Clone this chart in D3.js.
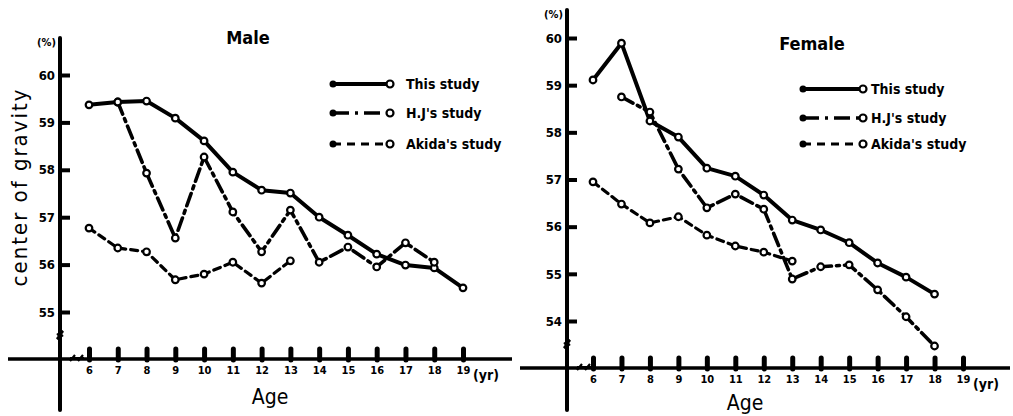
<!DOCTYPE html>
<html>
<head>
<meta charset="utf-8">
<script src="https://cdn.jsdelivr.net/npm/d3@7"></script>
<style>
  body { margin: 0; background: #fff; }
  text { font-family: "DejaVu Sans Condensed", "DejaVu Sans", sans-serif; fill: #000; }
  .tick text { font-weight: bold; }
</style>
</head>
<body>
<svg width="1013" height="416"></svg>
<script>
// ages on the x axis
var ages = [6, 7, 8, 9, 10, 11, 12, 13, 14, 15, 16, 17, 18, 19];

// male panel (center of gravity, %)
var maleThisAges = [6, 7, 8, 9, 10, 11, 12, 13, 14, 15, 16, 17, 18, 19];
var maleThis = [59.37, 59.43, 59.45, 59.09, 58.61, 57.95, 57.57, 57.51, 57.0, 56.62, 56.22, 55.99, 55.93, 55.51];
var maleHJAges = [7, 8, 9, 10, 11, 12, 13, 14, 15, 16, 17, 18];
var maleHJ = [59.43, 57.93, 56.56, 58.27, 57.11, 56.27, 57.15, 56.05, 56.37, 55.95, 56.46, 56.05];
var maleAkidaAges = [6, 7, 8, 9, 10, 11, 12, 13];
var maleAkida = [56.77, 56.35, 56.27, 55.68, 55.80, 56.05, 55.61, 56.08];
var maleYTicks = [55, 56, 57, 58, 59, 60];

// female panel
var femaleThisAges = [6, 7, 8, 9, 10, 11, 12, 13, 14, 15, 16, 17, 18];
var femaleThis = [59.11, 59.89, 58.24, 57.90, 57.24, 57.07, 56.67, 56.14, 55.93, 55.66, 55.23, 54.93, 54.57];
var femaleHJAges = [7, 8, 9, 10, 11, 12, 13, 14, 15, 16, 17, 18];
var femaleHJ = [58.75, 58.43, 57.22, 56.40, 56.69, 56.37, 54.89, 55.15, 55.19, 54.66, 54.09, 53.47];
var femaleAkidaAges = [6, 7, 8, 9, 10, 11, 12, 13];
var femaleAkida = [56.95, 56.48, 56.08, 56.21, 55.82, 55.59, 55.46, 55.27];
var femaleYTicks = [54, 55, 56, 57, 58, 59, 60];

var seriesNames = ['This study', "H.J's study", "Akida's study"];
var femaleNames = ['This study', "H.J's study", "Akida's study"];

var svg = d3.select('svg');

var styles = [
  {dash: null, width: 4},
  {dash: '13,5,3,5', width: 3.6},
  {dash: '7,5', width: 3.2}
];

var zip = function(a, v) {
  return a.map(function(d, i) { return {age: d, value: v[i]}; });
};

var drawPanel = function(p) {
  var g = svg.append('g');

  var x = d3.scaleLinear().domain([6, 19]).range(p.xRange);
  var y = d3.scaleLinear().domain(p.yDomain).range(p.yRange);

  // axis lines (hand-drawn look: thick)
  g.append('line')
    .attr('x1', p.axisX).attr('x2', p.axisX)
    .attr('y1', p.axisTop).attr('y2', 410)
    .attr('stroke', '#000').attr('stroke-width', 4).attr('stroke-linecap', 'round');
  g.append('line')
    .attr('x1', p.xLeft).attr('x2', p.xRight)
    .attr('y1', p.baseY).attr('y2', p.baseY)
    .attr('stroke', '#000').attr('stroke-width', 3.5);

  // break marks
  g.append('path')
    .attr('d', 'M' + (p.axisX - 3) + ',' + (p.baseY - 24) + 'l6,-4l-6,8l6,-4')
    .attr('fill', 'none').attr('stroke', '#000').attr('stroke-width', 2.5);
  g.append('path')
    .attr('d', 'M' + (p.axisX + 10) + ',' + (p.baseY + 2) + 'l5,-6m3,6l5,-6m-13,3l14,0')
    .attr('fill', 'none').attr('stroke', '#000').attr('stroke-width', 2.2);

  // x axis
  var xAxis = d3.axisBottom(x).tickValues(ages).tickSize(-11).tickPadding(6);
  var xg = g.append('g')
    .attr('transform', 'translate(0,' + (p.baseY + 1) + ')')
    .call(xAxis);
  xg.select('.domain').remove();
  xg.selectAll('.tick line').attr('stroke', '#000').attr('stroke-width', 5).attr('stroke-linecap', 'round');
  xg.selectAll('.tick text').attr('font-size', 11);

  g.append('text')
    .attr('x', x(19) + 10).attr('y', p.baseY + 21)
    .attr('font-size', 14).attr('font-weight', 'bold')
    .text('(yr)');

  // y axis
  var yAxis = d3.axisLeft(y).tickValues(p.yTicks).tickFormat(d3.format('d')).tickSize(-10).tickPadding(5);
  var yg = g.append('g')
    .attr('transform', 'translate(' + p.axisX + ',0)')
    .call(yAxis);
  yg.select('.domain').remove();
  yg.selectAll('.tick line').attr('stroke', '#000').attr('stroke-width', 4);
  yg.selectAll('.tick text').attr('font-size', 13);

  g.append('text')
    .attr('x', p.axisX - 4).attr('y', p.axisTop + 8)
    .attr('text-anchor', 'end')
    .attr('font-size', 11).attr('font-weight', 'bold')
    .text('(%)');

  // titles
  g.append('text')
    .attr('x', p.titleX).attr('y', p.titleY)
    .attr('text-anchor', 'middle')
    .attr('font-size', 18).attr('font-weight', 'bold')
    .text(p.title);
  g.append('text')
    .attr('x', p.ageX).attr('y', p.ageY)
    .attr('text-anchor', 'middle')
    .attr('font-size', 21)
    .text('Age');

  var line = d3.line()
    .x(function(d) { return x(d.age); })
    .y(function(d) { return y(d.value); });

  p.series.forEach(function(s, i) {
    g.append('path')
      .datum(s)
      .attr('d', line)
      .attr('fill', 'none')
      .attr('stroke', '#000')
      .attr('stroke-width', styles[i].width)
      .attr('stroke-linecap', 'round')
      .attr('stroke-linejoin', 'round')
      .attr('stroke-dasharray', styles[i].dash);
  });
  p.series.forEach(function(s) {
    g.selectAll(null)
      .data(s)
      .enter().append('circle')
      .attr('cx', function(d) { return x(d.age); })
      .attr('cy', function(d) { return y(d.value); })
      .attr('r', 3.3)
      .attr('fill', '#fff')
      .attr('stroke', '#000')
      .attr('stroke-width', 2.2);
  });

  // legend
  var lg = g.append('g');
  p.names.forEach(function(n, i) {
    var ly = p.legendY[i];
    lg.append('line')
      .attr('x1', p.legendX).attr('x2', p.legendX + p.legendLen)
      .attr('y1', ly).attr('y2', ly)
      .attr('stroke', '#000')
      .attr('stroke-width', styles[i].width)
      .attr('stroke-dasharray', i === 0 ? null : (i === 1 ? '16,6,3,6' : '8,6'));
    lg.append('circle')
      .attr('cx', p.legendX).attr('cy', ly).attr('r', 3.5)
      .attr('fill', '#000');
    lg.append('circle')
      .attr('cx', p.legendX + p.legendLen).attr('cy', ly).attr('r', 3.5)
      .attr('fill', '#fff').attr('stroke', '#000').attr('stroke-width', 2.2);
    lg.append('text')
      .attr('x', p.legendX + p.legendLen + p.textGap).attr('y', ly + 5)
      .attr('font-size', 14).attr('font-weight', 'bold')
      .text(n);
  });
};

drawPanel({
  title: 'Male', titleX: 248, titleY: 44, ageX: 270, ageY: 404,
  xRange: [89, 463], yDomain: [55, 60], yRange: [312, 75], yTicks: maleYTicks,
  axisX: 60, axisTop: 38, baseY: 359, xLeft: 8, xRight: 512,
  series: [zip(maleThisAges, maleThis), zip(maleHJAges, maleHJ), zip(maleAkidaAges, maleAkida)],
  names: seriesNames, legendX: 333, legendLen: 57, legendY: [84, 113, 144], textGap: 16
});

drawPanel({
  title: 'Female', titleX: 812, titleY: 50, ageX: 745, ageY: 410,
  xRange: [593, 963], yDomain: [54, 60], yRange: [321, 38], yTicks: femaleYTicks,
  axisX: 567, axisTop: 10, baseY: 368, xLeft: 520, xRight: 1010,
  series: [zip(femaleThisAges, femaleThis), zip(femaleHJAges, femaleHJ), zip(femaleAkidaAges, femaleAkida)],
  names: femaleNames, legendX: 803, legendLen: 60, legendY: [89, 118, 144], textGap: 8
});

// y axis title
svg.append('text')
  .attr('transform', 'translate(27,187) rotate(-90)')
  .attr('text-anchor', 'middle')
  .attr('font-size', 22)
  .attr('letter-spacing', 2)
  .text('center of gravity');
</script>
</body>
</html>
